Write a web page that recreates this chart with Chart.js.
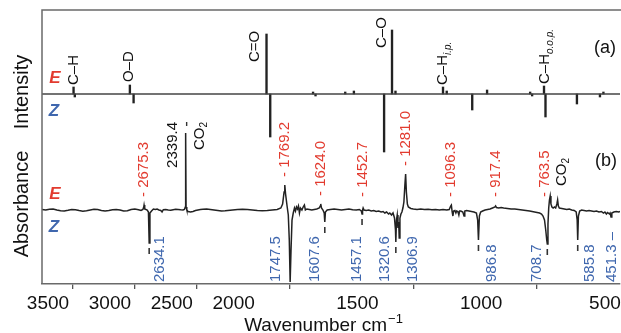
<!DOCTYPE html>
<html><head><meta charset="utf-8">
<script src="https://cdn.jsdelivr.net/npm/chart.js@4/dist/chart.umd.min.js"></script>
<style>html,body{margin:0;padding:0;background:#fff}#wrap{width:621px;height:333px}</style>
</head><body><div id="wrap"><canvas id="c" width="621" height="333"></canvas></div>
<script>
// ---------- data ----------
const tickWavenumbers = [3500, 3000, 2500, 2000, 1500, 1000, 500];
const axisStart = 3500, axisBreak = 2000, axisEnd = 415;

// (a) stick spectrum: wavenumber / intensity (up = E, down = Z)
const stickWn  = [3245, 3235, 2790, 2760, 1843, 1828, 1655, 1645, 1525, 1490, 1368, 1336, 1322, 1130, 1115, 1012, 952, 778, 770, 722, 716, 589, 496, 482];
const stickVal = [   7,   -3,    9,   -9,   60,  -43,    2,   -2,    2,    3,  -58,   64,    3,    7,    3,  -16,   4,   2,  -2,   8,  -23, -10,  -3,   2];

// (b) absorbance difference spectrum
const absWn = [3500,3470,3440,3410,3380,3350,3320,3290,3260,3230,3200,3170,3140,3110,3080,3050,3020,2990,2960,2930,2900,2870,2840,2810,2780,2750,2720,2700,2685,2678,2675.3,2670,2650,2640,2634.1,2628,2615,2600,2585,2570,2555,2540,2530,2520,2500,2480,2460,2440,2420,2400,2380,2360,2350,2342,2339.4,2336,2330,2320,2300,2280,2260,2240,2220,2200,2170,2140,2110,2080,2050,2020,2000,1980,1960,1940,1920,1900,1880,1860,1840,1820,1800,1785,1778,1772,1769.2,1766,1760,1755,1751,1747.5,1744,1740,1735,1730,1726,1722,1718,1714,1710,1706,1700,1695,1690,1686,1680,1670,1660,1650,1640,1630,1626,1624,1621,1615,1610,1607.6,1605,1598,1585,1570,1555,1540,1525,1510,1495,1480,1468,1460,1457.1,1455,1452.7,1449,1440,1430,1420,1410,1400,1390,1380,1372,1365,1358,1350,1345,1338,1332,1326,1322,1320.6,1318,1315,1312,1309,1306.9,1304,1300,1296,1292,1288,1284,1281,1278,1274,1270,1260,1250,1235,1220,1205,1190,1175,1160,1145,1130,1115,1105,1099,1096.3,1093,1090,1087,1082,1078,1075,1070,1066,1063,1058,1050,1045,1042,1035,1025,1015,1005,995,990,986.8,983,978,970,960,950,940,930,920,917.4,914,905,895,885,870,855,840,825,810,795,780,770,760,750,740,732,726,720,715,711,708.7,706,703,700,697,694,690,685,680,675,670,667,664,660,650,640,630,620,610,600,592,588,585.8,583,578,570,560,550,540,530,520,510,500,490,482,476,470,465,458,455,451.3,448,440,430,420,415];
const absVal = [0.5,0,0.8,1,0,-0.8,-1,-0.3,0.5,0.3,-0.5,-1.2,-0.8,0,0.8,0.5,-0.5,-1,-0.5,0.3,0.6,0,-1,-0.8,0.5,1,0.3,-0.5,0.5,3,5,1,0,-2,-33,-3,-1,1,0.5,1,0,-0.5,-2,0.3,0.5,0,-0.3,0.3,0.8,0.5,0.2,0,0.5,3,77,3,0,-1.5,-2,-1.5,-0.5,0,0.5,0.8,1,0.5,0,-0.5,-1,-0.8,-0.5,0,0.5,0.8,0.5,0,-0.5,-0.8,-0.5,0,0.5,2,6,18,25,16,4,-5,-30,-72,-40,-10,-3,2,-1,3,1,4,-3,2,0,3,5,0,1,0.5,0,0.5,1,2,4,6,2,0,-3,-12,-2,0,0.5,1,0.5,0,0.5,1,0.3,0,0.5,-1,-4,0,2,0,-0.5,0,-1,-0.5,-1.5,-1,-2,-1.5,-3,-2,-4,-3,-5,-3,-8,-20,-32,-10,-5,-18,-12,-28,-8,-4,-2,2,8,25,36,18,6,3,1.5,1,0.5,1,0.5,0.8,0.3,0.5,0,0.5,0,0.5,4,5,-2,-6,-1,-0.5,-3,-1,-1.5,-5,-1,-1,-2,-6,-1,-0.5,-1,-1.5,-2,-3,-10,-30,-6,-2,-1,0,0.5,1,2,3,4,2.5,2,2.5,2,1.5,1,1,0.5,0,-0.5,-1,-1.5,-2,-2.5,-3,-4,-6,-10,-20,-30,-34,-14,2,10,14,6,3,2,3,2,6,10,4,2,1.5,1,0.5,1,0,-0.5,-2,-10,-30,-6,-1,0,-0.5,-1,-0.5,-1,-1.5,-1,-2,-1.5,-3,-2,-4,-2.5,-4,-3,-7,-3,-2,-1.5,-2,-1.5];

// (a) band assignments
const bandText = ['C–H', 'O–D', 'C=O', 'C–O', 'C–H', 'C–H'];
const bandSub  = ['', '', '', '', 'i.p.', 'o.o.p.'];
const bandWn   = [3242, 2798, 1889, 1376, 1130, 718];
const bandBottom = [9, 12, 32, 46, 9, 10];

// (b) peak labels
const eLabels = ['2675.3', '1769.2', '1624.0', '1452.7', '1281.0', '1096.3', '917.4', '763.5'];
const ePeakWn = [2675.3, 1769.2, 1624.0, 1452.7, 1281.0, 1096.3, 917.4, 718];
const zLabels = ['2634.1', '1747.5', '1607.6', '1457.1', '1320.6', '1306.9', '986.8', '708.7', '585.8', '451.3 –'];
const zPeakWn = [2634.1, 1747.5, 1607.6, 1457.1, 1320.6, 1306.9, 986.8, 708.7, 585.8, 451.3];
const zTextWn = [2547, 1804, 1647, 1477, 1364, 1251, 932, 750, 536, 448];
const zDash   = [1, 0, 1, 1, 1, 0, 1, 1, 1, 0];
const co2Wn = [2339.4, 667];

// ---------- axis transform (broken scale, 2x expansion below 2000) ----------
const tBreak = (axisStart - axisBreak) / 2;
function T(w) { return w >= axisBreak ? (axisStart - w) / 2 : tBreak + (axisBreak - w); }
function invT(t) { return t <= tBreak ? axisStart - 2 * t : axisBreak - (t - tBreak); }

const offsetA = 116; // vertical offset of trace (a)
const RED = '#e23b2f', BLUE = '#3f67ae', INK = '#222';

const specPts = absWn.map((w, i) => ({ x: T(w), y: absVal[i] }));
const stickPts = stickWn.map((w, i) => ({ x: T(w), y: [offsetA, offsetA + stickVal[i]] }));
const baseA = [{ x: T(axisStart), y: offsetA }, { x: T(axisEnd), y: offsetA }];

function localExt(w, sign) {
  let best = 0;
  absWn.forEach((x, i) => { if (Math.abs(x - w) <= 4) { const v = absVal[i]; if (sign > 0 ? v > best : v < best) best = v; } });
  return best;
}

function vText(ctx, segs, x, y, align) {
  ctx.save();
  ctx.translate(x, y);
  ctx.rotate(-Math.PI / 2);
  ctx.textBaseline = 'middle';
  let total = 0;
  segs.forEach(s => { ctx.font = s.font; total += ctx.measureText(s.t).width; });
  let pos = align === 'left' ? 0 : (align === 'right' ? -total : -total / 2);
  ctx.textAlign = 'left';
  segs.forEach(s => { ctx.font = s.font; ctx.fillStyle = s.color; ctx.fillText(s.t, pos, s.dy || 0); pos += ctx.measureText(s.t).width; });
  ctx.restore();
}

const annot = {
  id: 'annot',
  afterDraw(chart) {
    const ctx = chart.ctx, xs = chart.scales.x, ys = chart.scales.y, ca = chart.chartArea;
    const X = w => xs.getPixelForValue(T(w));
    const Y = v => ys.getPixelForValue(v);
    ctx.save();
    ctx.strokeStyle = '#6a6a6a'; ctx.lineWidth = 1.5;
    ctx.beginPath(); ctx.moveTo(ca.left, ca.bottom); ctx.lineTo(ca.left, ca.top); ctx.lineTo(ca.right + 1, ca.top); ctx.stroke();
    ctx.restore();
    const nf = '15px Arial';
    bandText.forEach((t, i) => {
      const segs = [{ t, font: '15px Arial', color: '#111' }];
      if (bandSub[i]) segs.push({ t: bandSub[i], font: 'italic 10px Arial', color: '#111', dy: 5 });
      vText(ctx, segs, X(bandWn[i]), Y(offsetA + bandBottom[i]), 'left');
    });
    eLabels.forEach((t, i) => {
      const tip = localExt(ePeakWn[i], 1);
      const v = Math.max(tip + 8, 13);
      vText(ctx, [{ t: '- ' + t, font: nf, color: RED }], X(ePeakWn[i]), Y(v), 'left');
    });
    zLabels.forEach((t, i) => {
      vText(ctx, [{ t, font: nf, color: BLUE }], X(zTextWn[i]), Y(-72), 'left');
      if (zDash[i]) {
        const tip = localExt(zPeakWn[i], -1);
        ctx.save(); ctx.strokeStyle = '#333'; ctx.lineWidth = 1.6;
        ctx.beginPath(); ctx.moveTo(X(zPeakWn[i]), Y(tip) + 5); ctx.lineTo(X(zPeakWn[i]), Y(tip) + 11); ctx.stroke(); ctx.restore();
      }
    });
    const c1 = X(co2Wn[0]);
    vText(ctx, [{ t: '2339.4', font: nf, color: '#111' }], c1 - 13, Y(88), 'right');
    vText(ctx, [{ t: 'CO', font: nf, color: '#111' }, { t: '2', font: '10px Arial', color: '#111', dy: 5 }], c1 + 14, Y(88), 'right');
    ctx.save(); ctx.strokeStyle = '#333'; ctx.lineWidth = 1.4;
    ctx.beginPath(); ctx.moveTo(c1 + 1, Y(88)); ctx.lineTo(c1 + 1, Y(84)); ctx.stroke(); ctx.restore();
    vText(ctx, [{ t: 'CO', font: nf, color: '#111' }, { t: '2', font: '10px Arial', color: '#111', dy: 5 }], X(co2Wn[1]) + 4, Y(24), 'left');
    ctx.save();
    ctx.font = 'italic bold 17px Arial'; ctx.textAlign = 'center'; ctx.textBaseline = 'middle';
    [offsetA, 0].forEach(b => {
      ctx.fillStyle = RED; ctx.fillText('E', ca.left + 13, Y(b) - 16);
      ctx.fillStyle = BLUE; ctx.fillText('Z', ca.left + 12, Y(b) + 17);
    });
    ctx.fillStyle = '#111'; ctx.font = '18px Arial';
    ctx.fillText('(a)', ca.right - 15, Y(offsetA) - 46);
    ctx.fillText('(b)', ca.right - 14, Y(0) - 49);
    ctx.restore();
    vText(ctx, [{ t: 'Intensity', font: '20px Arial', color: '#111' }], 22, Y(offsetA) - 2, 'center');
    vText(ctx, [{ t: 'Absorbance', font: '20px Arial', color: '#111' }], 22, Y(0) - 6, 'center');
    ctx.save();
    ctx.fillStyle = '#111'; ctx.textBaseline = 'alphabetic'; ctx.textAlign = 'left';
    ctx.font = '19px Arial';
    const main = 'Wavenumber cm', w1 = ctx.measureText(main).width;
    ctx.font = '13px Arial';
    const sup = '−1', w2 = ctx.measureText(sup).width;
    const x0 = (ca.left + ca.right) / 2 - 8 - (w1 + w2) / 2;
    ctx.font = '19px Arial'; ctx.fillText(main, x0, 331);
    ctx.font = '13px Arial'; ctx.fillText(sup, x0 + w1 + 1, 323);
    ctx.restore();
  }
};

Chart.defaults.font.family = 'Arial, "Liberation Sans", sans-serif';
new Chart(document.getElementById('c'), {
  type: 'line',
  data: {
    datasets: [
      { type: 'line', data: specPts, borderColor: INK, borderWidth: 1.5, pointRadius: 0, tension: 0, fill: false },
      { type: 'line', data: baseA, borderColor: '#444', borderWidth: 1.4, pointRadius: 0, fill: false },
      { type: 'bar', data: stickPts, backgroundColor: INK, borderWidth: 0, barThickness: 1.7 }
    ]
  },
  options: {
    responsive: false, animation: false, events: [],
    layout: { padding: { left: 42, top: 10, right: 1, bottom: 0 } },
    plugins: { legend: { display: false }, tooltip: { enabled: false } },
    scales: {
      x: {
        type: 'linear', offset: false, min: T(axisStart), max: T(axisEnd),
        afterBuildTicks: s => { s.ticks = tickWavenumbers.map(w => ({ value: T(w) })); },
        afterFit: s => { s.height = 49; s.paddingLeft = 0; s.paddingRight = 0; },
        ticks: { callback: v => String(Math.round(invT(v))), font: { size: 19 }, color: '#111', labelOffset: 6, padding: 3, maxRotation: 0, autoSkip: false },
        grid: { drawOnChartArea: false, drawTicks: true, tickLength: 5, color: '#555', lineWidth: 1.3 },
        border: { display: true, color: '#6a6a6a', width: 1.5 }
      },
      y: { type: 'linear', min: -74, max: 200, display: false }
    }
  },
  plugins: [annot]
});
</script></body></html>
